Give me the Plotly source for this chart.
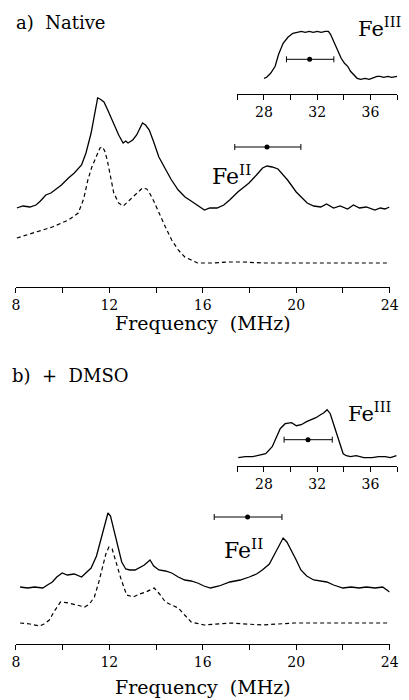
import plotly.graph_objects as go

# ---------------- data (arbitrary intensity units) ----------------
# a) Native, main spectrum 8-24 MHz
a_solid_f = [8.04, 8.3, 8.6, 8.86, 9.05, 9.28, 9.5, 9.69, 9.95, 10.25, 10.5, 10.81, 11.0, 11.22, 11.38, 11.5, 11.6,
             11.77, 11.95, 12.17, 12.4, 12.59, 12.7, 12.80, 13.0, 13.17, 13.3, 13.42, 13.55, 13.71, 13.9, 14.12,
             14.4, 14.66, 14.95, 15.24, 15.5, 15.78, 16.07, 16.3, 16.61, 16.9, 17.15, 17.5, 17.98, 18.3, 18.56,
             18.75, 18.97, 19.22, 19.4, 19.63, 20.0, 20.47, 20.75, 21.05, 21.3, 21.6, 21.88, 22.2, 22.45, 22.71,
             23.0, 23.37, 23.6, 23.8, 23.99]
a_solid_i = [79, 81, 80, 82, 86, 92, 94, 97, 102, 109, 114, 122, 134, 154, 175, 189, 188,
             185, 176, 164, 152, 144, 146, 144, 147, 152, 158, 164, 162, 157, 145, 130,
             118, 107, 97, 90, 86, 82, 77, 79, 79, 82, 87, 95, 104, 112, 119,
             121, 120, 118, 113, 107, 95, 84, 81, 80, 83, 79, 81, 78, 82, 79,
             80, 77, 79, 78, 80]
a_dash_f = [8.04, 8.86, 9.56, 10.25, 10.67, 10.9, 11.08, 11.25, 11.43, 11.6, 11.71, 11.8, 11.91, 12.05, 12.19,
            12.4, 12.6, 12.87, 13.15, 13.42, 13.6, 13.7, 13.9, 14.12, 14.4, 14.67, 14.95, 15.23, 15.5, 15.78,
            16.47, 17.1, 17.72, 18.55, 19.3, 19.93, 21.3, 22.69, 24.0]
a_dash_i = [49, 55, 60, 67, 74, 88, 107, 120, 130, 139, 140, 136, 127, 110, 94,
            84, 81, 87, 93, 99, 98, 95, 86, 74, 60, 47, 37, 30, 27, 24,
            24, 25, 25, 24, 24, 24, 24, 24, 24]

# a) inset Fe(III) 26-38 MHz
a_in_f = [28.0, 28.2, 28.5, 28.84, 29.1, 29.44, 29.8, 30.17, 30.5, 30.8, 31.1, 31.4, 31.7, 32.0, 32.3, 32.6,
          32.84, 33.0, 33.2, 33.5, 33.8, 34.05, 34.29, 34.5, 34.78, 35.0, 35.26, 35.6, 35.9, 36.23, 36.5,
          36.71, 37.0, 37.3, 37.6, 38.0]
a_in_i = [16, 17, 21, 28, 40, 51, 57, 61, 62, 63, 62, 63, 62, 63, 62, 63,
          63, 60, 54, 45, 36, 31, 28, 23, 19, 16, 15, 16, 15, 17, 18,
          18, 17, 18, 17, 18]

# b) + DMSO, main spectrum 8-24 MHz
b_solid_f = [8.18, 8.5, 8.8, 9.15, 9.35, 9.56, 9.75, 9.98, 10.2, 10.5, 10.81, 11.0, 11.22, 11.45, 11.64, 11.8,
             11.94, 12.05, 12.19, 12.35, 12.53, 12.7, 12.88, 13.1, 13.29, 13.5, 13.74, 13.9, 14.12, 14.4, 14.67,
             14.95, 15.23, 15.5, 15.78, 16.05, 16.33, 16.7, 17.16, 17.6, 17.99, 18.3, 18.55, 18.85, 19.1, 19.3,
             19.44, 19.6, 19.79, 20.0, 20.2, 20.45, 20.75, 21.0, 21.31, 21.6, 22.0, 22.35, 22.69, 23.0, 23.38,
             23.7, 24.0]
b_solid_i = [57, 56, 57, 56, 59, 62, 67, 71, 69, 70, 67, 71, 76, 88, 104, 120,
             131, 128, 114, 97, 82, 75, 74, 74, 76, 79, 84, 78, 74, 73, 71,
             67, 64, 63, 61, 58, 56, 58, 62, 64, 67, 70, 74, 80, 91, 100,
             106, 102, 94, 84, 74, 68, 64, 63, 62, 59, 56, 57, 56, 57, 56,
             57, 52]
b_dash_f = [8.18, 8.6, 9.01, 9.2, 9.43, 9.65, 9.91, 10.25, 10.6, 10.94, 11.15, 11.36, 11.55, 11.71, 11.85,
            11.98, 12.12, 12.26, 12.5, 12.74, 13.02, 13.3, 13.57, 13.92, 14.15, 14.4, 14.95, 15.5, 16.06,
            17.16, 18.55, 19.93, 21.31, 22.69, 24.0]
b_dash_i = [21, 20, 18, 20, 24, 33, 42, 41, 39, 37, 40, 47, 62, 77, 90,
            97, 95, 84, 65, 49, 47, 50, 52, 56, 50, 42, 36, 22, 19,
            21, 19, 21, 21, 21, 21]

# b) inset Fe(III) 26-38 MHz
b_in_f = [26.07, 26.6, 27.16, 27.7, 28.13, 28.62, 28.98, 29.22, 29.59, 30.07, 30.44, 30.8, 31.2, 31.53, 31.9,
          32.25, 32.5, 32.74, 32.98, 33.22, 33.58, 33.95, 34.19, 34.5, 34.92, 35.5, 36.13, 36.6, 37.1, 37.5,
          37.95]
b_in_i = [8, 9, 9, 11, 12, 19, 31, 37, 42, 43, 40, 41, 44, 46, 48,
          51, 53, 56, 52, 42, 27, 12, 10, 9, 10, 8, 8, 9, 9, 8,
          10]

# error bars: centre, low end, high end, height
a_main_bar = dict(c=18.75, lo=17.37, hi=20.2, y=140)
a_in_bar = dict(c=31.43, lo=29.69, hi=33.25, y=35)
b_main_bar = dict(c=17.92, lo=16.49, hi=19.39, y=127)
b_in_bar = dict(c=31.31, lo=29.51, hi=33.13, y=26)

main_ticks = [8, 12, 16, 20, 24]
main_labels = ["8", "12", "16", "20", "24"]
inset_ticks = [28, 32, 36]
inset_labels = ["28", "32", "36"]
x_title = "Frequency\u00a0 (MHz)"

FONT = "DejaVu Serif"
W, H = 409, 700

def px_x(p):
    return p / W

def px_y(p):
    return 1 - p / H

fig = go.Figure()

solid = dict(color="black", width=1.3)
dashed = dict(color="black", width=1.2, dash="4px,3px")

def add_bar(b, xa, ya):
    fig.add_trace(go.Scatter(
        x=[b["c"]], y=[b["y"]], mode="markers", xaxis=xa, yaxis=ya,
        marker=dict(color="black", size=5, symbol="circle"),
        error_x=dict(type="data", symmetric=False, array=[b["hi"] - b["c"]],
                     arrayminus=[b["c"] - b["lo"]], color="black", thickness=1, width=3),
        showlegend=False, hoverinfo="skip"))

fig.add_trace(go.Scatter(x=a_solid_f, y=a_solid_i, mode="lines", line=solid, xaxis="x", yaxis="y", showlegend=False))
fig.add_trace(go.Scatter(x=a_dash_f, y=a_dash_i, mode="lines", line=dashed, xaxis="x", yaxis="y", showlegend=False))
add_bar(a_main_bar, "x", "y")
fig.add_trace(go.Scatter(x=a_in_f, y=a_in_i, mode="lines", line=solid, xaxis="x2", yaxis="y2", showlegend=False))
add_bar(a_in_bar, "x2", "y2")
fig.add_trace(go.Scatter(x=b_solid_f, y=b_solid_i, mode="lines", line=solid, xaxis="x3", yaxis="y3", showlegend=False))
fig.add_trace(go.Scatter(x=b_dash_f, y=b_dash_i, mode="lines", line=dashed, xaxis="x3", yaxis="y3", showlegend=False))
add_bar(b_main_bar, "x3", "y3")
fig.add_trace(go.Scatter(x=b_in_f, y=b_in_i, mode="lines", line=solid, xaxis="x4", yaxis="y4", showlegend=False))
add_bar(b_in_bar, "x4", "y4")

main_dom = [px_x(12.3), px_x(398.3)]
in_dom = [px_x(241), px_x(406)]

def xax(dom, rng, tv, tt, t0, anchor):
    return dict(domain=dom, range=rng, anchor=anchor, showline=True, linecolor="black", linewidth=1.3,
                ticks="outside", ticklen=5, tickwidth=1, tickcolor="black", tickvals=tv, ticktext=tt,
                minor=dict(tick0=t0, dtick=2, ticks="outside", ticklen=5, tickwidth=1, tickcolor="black",
                           showgrid=False),
                showgrid=False, zeroline=False, tickfont=dict(family=FONT, size=14, color="black"))

def yax(dom, rng, anchor):
    return dict(domain=dom, range=rng, anchor=anchor, visible=False, showgrid=False, zeroline=False)

fig.update_layout(
    width=W, height=H, margin=dict(l=0, r=0, t=0, b=0),
    paper_bgcolor="white", plot_bgcolor="rgba(0,0,0,0)",
    xaxis=xax(main_dom, [8, 24], main_ticks, main_labels, 8, "y"),
    yaxis=yax([px_y(287), px_y(80)], [0, 207], "x"),
    xaxis2=xax(in_dom, [26, 38], inset_ticks, inset_labels, 26, "y2"),
    yaxis2=yax([px_y(94.3), px_y(20)], [0, 74.3], "x2"),
    xaxis3=xax(main_dom, [8, 24], main_ticks, main_labels, 8, "y3"),
    yaxis3=yax([px_y(644), px_y(500)], [0, 144], "x3"),
    xaxis4=xax(in_dom, [26, 38], inset_ticks, inset_labels, 26, "y4"),
    yaxis4=yax([px_y(465.7), px_y(395)], [0, 70.7], "x4"),
    showlegend=False,
)

def label(text, x, y, size, xanchor="left", yanchor="middle"):
    fig.add_annotation(text=text, x=px_x(x), y=px_y(y), xref="paper", yref="paper",
                       xanchor=xanchor, yanchor=yanchor, showarrow=False,
                       font=dict(family=FONT, size=size, color="black"))

label("a)\u00a0 Native", 10, 22, 18)
label("b)\u00a0 +\u00a0 DMSO", 6, 375, 18)
label("Fe<sup>III</sup>", 364, 27, 21)
label("Fe<sup>II</sup>", 213, 175, 22)
label("Fe<sup>III</sup>", 353, 412, 21)
label("Fe<sup>II</sup>", 225, 549, 22)
label(x_title, 206, 323, 19, xanchor="center")
label(x_title, 206, 687, 19, xanchor="center")

fig.write_html("out.html", config={"displayModeBar": False},
               post_script="document.body.style.margin='0';")
